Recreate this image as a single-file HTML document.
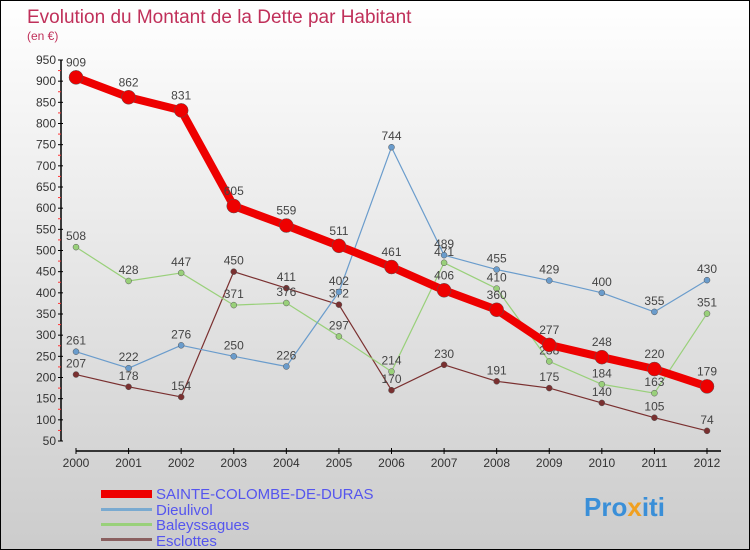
<!DOCTYPE html>
<html><head><meta charset="utf-8"><style>
body{margin:0}
#c{width:748px;height:548px;border:1px solid #000;background:linear-gradient(#fff,#ccc);position:relative;overflow:hidden;font-family:"Liberation Sans",sans-serif}
</style></head><body>
<div id="c">
<svg id="s" width="748" height="548" xmlns="http://www.w3.org/2000/svg" font-family="Liberation Sans, sans-serif">
<text x="26" y="22" font-size="19" fill="#c0305a">Evolution du Montant de la Dette par Habitant</text>
<text x="26" y="39" font-size="12" fill="#c0305a">(en €)</text>
<g id="axes"></g><g id="series"></g>
<g>
<rect x="100" y="489" width="51" height="8" fill="#e00"/>
<text x="155" y="498" font-size="15" fill="#5555ee">SAINTE-COLOMBE-DE-DURAS</text>
<rect x="100" y="507" width="51" height="3" fill="#7aaad0"/>
<text x="155" y="514" font-size="15" fill="#5555ee">Dieulivol</text>
<rect x="100" y="522" width="51" height="3" fill="#99d07a"/>
<text x="155" y="529" font-size="15" fill="#5555ee">Baleyssagues</text>
<rect x="100" y="537" width="51" height="3" fill="#8a6060"/>
<text x="155" y="545" font-size="15" fill="#5555ee">Esclottes</text>
</g>
<text x="583" y="515" font-size="26" font-weight="bold" fill="#3a8fd8">Pro<tspan fill="#f0a020">x</tspan>iti</text>
</svg></div>
<script>
const years=[2000,2001,2002,2003,2004,2005,2006,2007,2008,2009,2010,2011,2012];
const yTicks=[50,100,150,200,250,300,350,400,450,500,550,600,650,700,750,800,850,900,950];
const sainte=[909,862,831,605,559,511,461,406,360,277,248,220,179];
const dieulivol=[261,222,276,250,226,402,744,489,455,429,400,355,430];
const baleyssagues=[508,428,447,371,376,297,214,471,410,238,184,163,351];
const esclottes=[207,178,154,450,411,372,170,230,191,175,140,105,74];
const NS="http://www.w3.org/2000/svg";
const X=i=>75+i*(706-75)/(years.length-1);
const Y=v=>440-(v-50)*(440-59)/900;
function mk(t,a,p){const e=document.createElementNS(NS,t);for(const k in a)e.setAttribute(k,a[k]);p.appendChild(e);return e;}
const ax=document.getElementById('axes'),sr=document.getElementById('series');
let l=mk('line',{x1:60,y1:59,x2:60,y2:440,stroke:'#000','stroke-width':1.5},ax);


yTicks.forEach((v,i)=>{
 mk('line',{x1:57,y1:Y(v),x2:62,y2:Y(v),stroke:'#000'},ax);
 if(i<yTicks.length-1)mk('line',{x1:57,y1:Y(v+25),x2:60,y2:Y(v+25),stroke:'#f33'},ax);
 const t=mk('text',{x:55,y:Y(v)+4,'font-size':12,'text-anchor':'end',fill:'#333'},ax);t.textContent=v;
 
 
});
l=mk('line',{x1:75,y1:450,x2:720,y2:450,stroke:'#000','stroke-width':1.5},ax);


years.forEach((y,i)=>{
 mk('line',{x1:X(i),y1:447,x2:X(i),y2:453,stroke:'#000'},ax);
 const t=mk('text',{x:X(i),y:466,'font-size':12,'text-anchor':'middle',fill:'#333'},ax);t.textContent=y;
 
 
});
function series(d,c,w,r,name){
 const g=mk('g',{},sr);
 
 
 mk('polyline',{points:d.map((v,i)=>X(i)+','+Y(v)).join(' '),fill:'none',stroke:c,'stroke-width':w,'stroke-linejoin':'round'},g);
 d.forEach((v,i)=>{
  const p=mk('circle',{cx:X(i),cy:Y(v),r:r,fill:c,stroke:'#555','stroke-width':0.5},g);
  
  
  const t=mk('text',{x:X(i),y:Y(v)-(r+4),'font-size':12,'text-anchor':'middle',fill:'#444'},g);t.textContent=v;
  
  
 });
}
series(esclottes,'#7a3030',1.2,3,'esclottes');
series(baleyssagues,'#99d07a',1.2,3,'baleyssagues');
series(dieulivol,'#6a9ccc',1.2,3,'dieulivol');
series(sainte,'#e00',8,7,'sainte-colombe');
</script>
</body></html>
